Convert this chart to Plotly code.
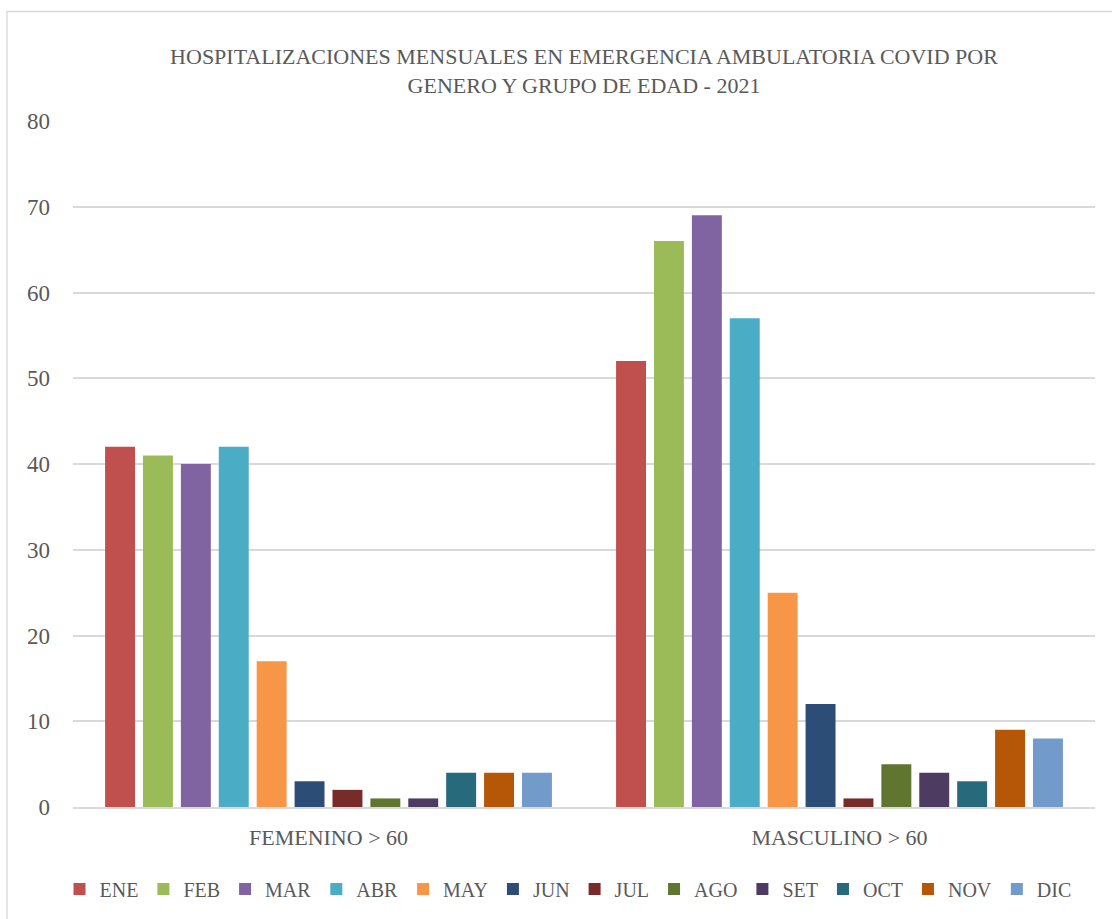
import plotly.graph_objects as go

categories = ["FEMENINO > 60", "MASCULINO > 60"]
months = ["ENE", "FEB", "MAR", "ABR", "MAY", "JUN", "JUL", "AGO", "SET", "OCT", "NOV", "DIC"]
femenino = [42, 41, 40, 42, 17, 3, 2, 1, 1, 4, 4, 4]
masculino = [52, 66, 69, 57, 25, 12, 1, 5, 4, 3, 9, 8]
colors = ["#C0504D", "#9BBB59", "#8064A2", "#4BACC6", "#F79646", "#2C4D75",
          "#772C2A", "#5F7530", "#4D3B62", "#276A7C", "#B65708", "#729ACA"]

FONT = "Liberation Serif"
TXT = "#595959"

fig = go.Figure()
for i, m in enumerate(months):
    fig.add_trace(go.Bar(
        name=m, x=categories, y=[femenino[i], masculino[i]],
        marker=dict(color=colors[i], line=dict(width=0)),
    ))

W, H = 1112, 919
L, R, T, B = 73, 17, 121, 112
pw, ph = W - L - R, H - T - B

fig.update_layout(
    width=W, height=H,
    margin=dict(l=L, r=R, t=T, b=B, autoexpand=False),
    paper_bgcolor="white", plot_bgcolor="white",
    barmode="group", bargap=0.11, bargroupgap=0.21,
    font=dict(family=FONT, color=TXT, size=22),
    title=dict(
        text="HOSPITALIZACIONES MENSUALES EN EMERGENCIA AMBULATORIA COVID POR<br>GENERO Y GRUPO DE EDAD - 2021",
        x=0.5, xref="paper", xanchor="center", y=1 - 64 / H, yanchor="middle",
        font=dict(family=FONT, size=22, color=TXT),
    ),
    showlegend=True,
    legend=dict(
        orientation="h", x=(568 - L) / pw, xanchor="center",
        y=(807 - 889) / ph, yanchor="middle",
        font=dict(family=FONT, size=20, color=TXT),
        itemwidth=30, traceorder="normal",
    ),
    yaxis=dict(
        range=[0, 80], dtick=10, showgrid=True, gridcolor="#D9D9D9", gridwidth=1.5,
        zeroline=False, showline=False, ticks="", ticklabelstandoff=22,
        tickfont=dict(family=FONT, size=23, color=TXT), fixedrange=True,
    ),
    xaxis=dict(
        showline=True, linecolor="#D9D9D9", linewidth=1.5, ticks="",
        tickfont=dict(family=FONT, size=22, color=TXT), ticklabelstandoff=10,
    ),
    shapes=[dict(
        type="rect", xref="paper", yref="paper",
        x0=(7 - L) / pw, x1=(W + 20 - L) / pw,
        y0=(807 - (H + 20)) / ph, y1=(807 - 11.5) / ph,
        line=dict(color="#D9D9D9", width=1.3), fillcolor="rgba(0,0,0,0)", layer="below",
    )],
)

fig.write_html("out.html")
